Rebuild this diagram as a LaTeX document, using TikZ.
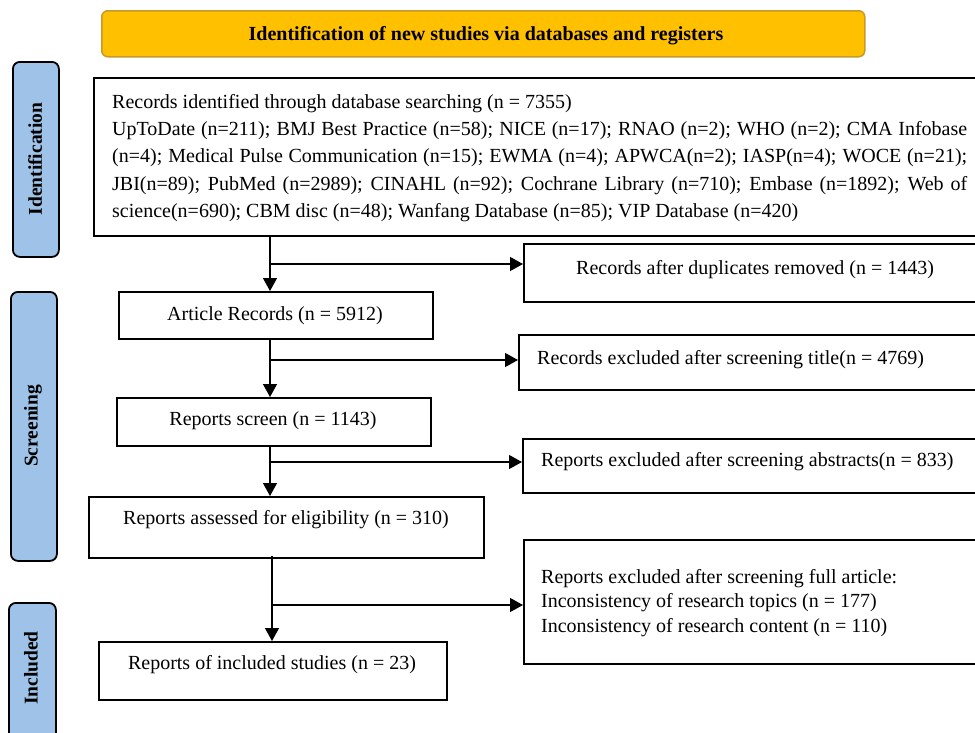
\documentclass[tikz,border=0pt]{standalone}
\usepackage{fontspec}
\setmainfont{Liberation Serif}
\usetikzlibrary{arrows.meta}
\definecolor{hdrfill}{HTML}{FFC000}
\definecolor{hdrdraw}{HTML}{C79A2A}
\definecolor{sidefill}{HTML}{9FC3E8}
\begin{document}
\begin{tikzpicture}[x=1pt,y=-1pt,
  box/.style={draw=black,line width=2pt,fill=white,inner sep=0pt,anchor=north west},
  side/.style={draw=black,line width=1.8pt,fill=sidefill,rounded corners=7pt,inner sep=0pt,anchor=north west},
  sidetxt/.style={rotate=90,font=\fontsize{19.5}{22}\selectfont\bfseries,inner sep=0pt},
  txt/.style={font=\fontsize{20}{24}\selectfont,inner sep=0pt},
  flow/.style={line width=1.3pt,-{Triangle[length=13pt,width=14pt]}}]
\path[use as bounding box,clip] (0,0) rectangle (975,732);
\fill[white] (0,0) rectangle (975,732);
% header
\node[draw=hdrdraw,line width=1.5pt,fill=hdrfill,rounded corners=6pt,minimum width=763pt,minimum height=46pt,anchor=north west,inner sep=0pt] (hdr) at (101,10) {};
\node[font=\fontsize{20}{24}\selectfont\bfseries,inner sep=0pt] (hdrt) at (486,36) {Identification of new studies via databases and registers};
% side bars
\node[side,minimum width=46pt,minimum height=195pt] (s1) at (12,61) {};
\node[sidetxt] (s1t) at (35,159) {Identification};
\node[side,minimum width=46pt,minimum height=269pt] (s2) at (10,291) {};
\node[sidetxt] (s2t) at (33,426) {Screening};
\node[side,minimum width=47pt,minimum height=150pt] (s3) at (8,602) {};
\node[sidetxt] (s3t) at (31,668) {Included};
% main boxes
\node[box,minimum width=900pt,minimum height=158pt] (b0) at (93,77) {};
\node[txt,anchor=west] (b0t) at (112,104) {Records identified through database searching (n = 7355)};
\node[txt,anchor=north west,text width=855pt,align=justify,font=\fontsize{20}{27.5}\selectfont] (b0p) at (112,121) {UpToDate (n=211); BMJ Best Practice (n=58); NICE (n=17); RNAO (n=2); WHO (n=2); CMA Infobase\linebreak (n=4); Medical Pulse Communication (n=15); EWMA (n=4); APWCA(n=2); IASP(n=4); WOCE (n=21);\linebreak JBI(n=89); PubMed (n=2989); CINAHL (n=92); Cochrane Library (n=710); Embase (n=1892); Web of\linebreak science(n=690); CBM disc (n=48); Wanfang Database (n=85); VIP Database (n=420)};
\node[box,minimum width=314pt,minimum height=47pt] (b1) at (118,291) {};
\node[txt] (b1t) at (275,316) {Article Records (n = 5912)};
\node[box,minimum width=314pt,minimum height=48pt] (b2) at (116,397) {};
\node[txt] (b2t) at (273,421) {Reports screen (n = 1143)};
\node[box,minimum width=395pt,minimum height=61pt] (b3) at (88,496) {};
\node[txt] (b3t) at (286,520) {Reports assessed for eligibility (n = 310)};
\node[box,minimum width=348pt,minimum height=58pt] (b4) at (98,641) {};
\node[txt] (b4t) at (272,665) {Reports of included studies (n = 23)};
% right boxes
\node[box,minimum width=480pt,minimum height=58pt] (r1) at (523,243) {};
\node[txt,anchor=west] (r1t) at (576,270) {Records after duplicates removed (n = 1443)};
\node[box,minimum width=480pt,minimum height=55pt] (r2) at (518,334) {};
\node[txt,anchor=west] (r2t) at (537,360) {Records excluded after screening title(n = 4769)};
\node[box,minimum width=480pt,minimum height=54pt] (r3) at (522,438) {};
\node[txt,anchor=west] (r3t) at (541,462) {Reports excluded after screening abstracts(n = 833)};
\node[box,minimum width=480pt,minimum height=124pt] (r4) at (523,539) {};
\node[txt,anchor=north west,align=left,font=\fontsize{20}{24.5}\selectfont] (r4t) at (541,569) {Reports excluded after screening full article:\\Inconsistency of research topics (n = 177)\\Inconsistency of research content (n = 110)};
% connectors
\coordinate (j1) at (270,264);
\coordinate (j2) at (270,360);
\coordinate (j3) at (270,462);
\coordinate (j4) at (272,605);
\draw[flow] (b0.south -| j1) -- (b1.north -| j1);
\draw[flow] (j1) -- (j1 -| r1.west);
\draw[flow] (b1.south -| j2) -- (b2.north -| j2);
\draw[flow] (j2) -- (j2 -| r2.west);
\draw[flow] (b2.south -| j3) -- (b3.north -| j3);
\draw[flow] (j3) -- (j3 -| r3.west);
\draw[flow] ([yshift=3pt]b3.south -| j4) -- (b4.north -| j4);
\draw[flow] (j4) -- (j4 -| r4.west);
\end{tikzpicture}
\end{document}
